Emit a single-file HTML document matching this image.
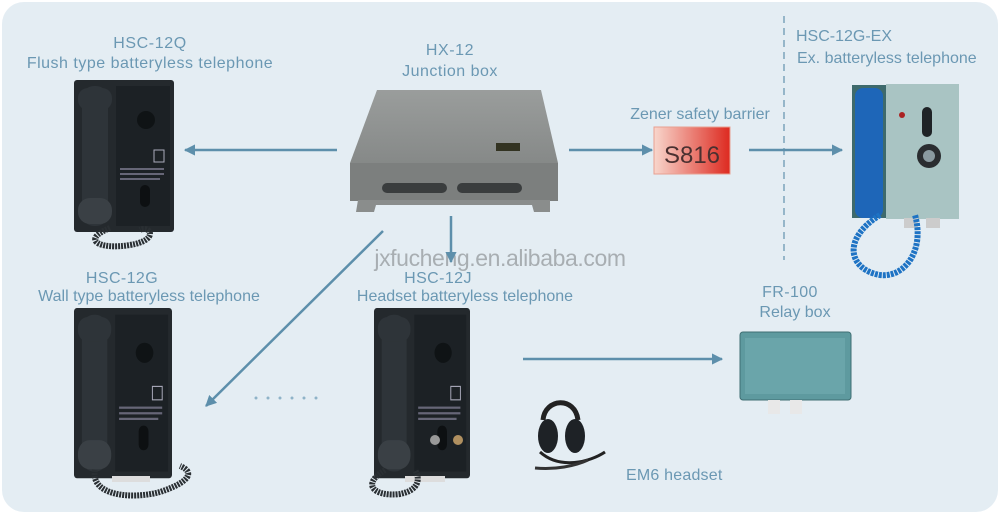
<!DOCTYPE html>
<html><head><meta charset="utf-8"><style>
html,body{margin:0;padding:0;background:#fff}
svg{display:block}
text{font-family:"Liberation Sans",sans-serif;fill:#6b98b3}
</style></head><body>
<svg width="1000" height="515" viewBox="0 0 1000 515" xmlns="http://www.w3.org/2000/svg">
<defs>
<linearGradient id="red" x1="0" x2="1" y1="0" y2="0"><stop offset="0" stop-color="#f8d6cc"/><stop offset="1" stop-color="#dd2a20"/></linearGradient>
<linearGradient id="box" x1="0" x2="0" y1="0" y2="1"><stop offset="0" stop-color="#9a9d9c"/><stop offset="1" stop-color="#868988"/></linearGradient>
<marker id="ah" viewBox="0 0 10 10" refX="9" refY="5" markerWidth="4.5" markerHeight="4.5" orient="auto"><path d="M0,0L10,5L0,10z" fill="#5d8fab"/></marker>
<g id="phone">
  <rect x="0" y="0" width="100" height="152" rx="3" fill="#24292d"/>
  <rect x="42" y="6" width="54" height="140" fill="#1c2125"/>
  <rect x="8" y="6" width="26" height="140" rx="12" fill="#2e3439"/>
  <rect x="4" y="8" width="34" height="22" rx="10" fill="#2e3439"/>
  <rect x="4" y="118" width="34" height="26" rx="12" fill="#3a4045"/>
  <circle cx="72" cy="40" r="9" fill="#0f1315"/>
  <rect x="80" y="70" width="10" height="12" fill="none" stroke="#aab" stroke-width="1"/>
  <rect x="46" y="88" width="44" height="2" fill="#667"/>
  <rect x="46" y="93" width="44" height="2" fill="#667"/>
  <rect x="46" y="98" width="40" height="2" fill="#667"/>
  <rect x="66" y="105" width="10" height="22" rx="5" fill="#0d1012"/>
</g>
</defs>
<rect x="0" y="0" width="1000" height="515" fill="#fff"/>
<rect x="2" y="2" width="996" height="510" rx="22" fill="#e4edf3"/>

<text x="150" y="48" font-size="16" text-anchor="middle" letter-spacing="0.6">HSC-12Q</text>
<text x="150" y="68" font-size="16" text-anchor="middle" letter-spacing="0.5">Flush type batteryless telephone</text>
<text x="450" y="55" font-size="16" text-anchor="middle" letter-spacing="0.6">HX-12</text>
<text x="450" y="76" font-size="16" text-anchor="middle" letter-spacing="0.5">Junction box</text>
<text x="700" y="119" font-size="16" text-anchor="middle">Zener safety barrier</text>
<text x="796" y="41" font-size="16">HSC-12G-EX</text>
<text x="797" y="63" font-size="16">Ex. batteryless telephone</text>
<text x="122" y="283" font-size="16" text-anchor="middle" letter-spacing="0.4">HSC-12G</text>
<text x="149" y="301" font-size="16" text-anchor="middle">Wall type batteryless telephone</text>
<text x="438" y="283" font-size="16" text-anchor="middle" letter-spacing="0.4">HSC-12J</text>
<text x="465" y="301" font-size="16" text-anchor="middle">Headset batteryless telephone</text>
<text x="790" y="297" font-size="16" text-anchor="middle" letter-spacing="0.4">FR-100</text>
<text x="795" y="317" font-size="16" text-anchor="middle">Relay box</text>
<text x="626" y="480" font-size="16" letter-spacing="0.2">EM6  headset</text>
<text x="500" y="266" font-size="23" text-anchor="middle" style="fill:#a8aeb2" letter-spacing="-0.4">jxfucheng.en.alibaba.com</text>

<line x1="784" y1="16" x2="784" y2="260" stroke="#6b98b3" stroke-width="1.3" stroke-dasharray="7,5"/>

<g stroke="#5d8fab" stroke-width="2.5" fill="none" marker-end="url(#ah)">
<line x1="337" y1="150" x2="185" y2="150"/>
<line x1="569" y1="150" x2="652" y2="150"/>
<line x1="749" y1="150" x2="842" y2="150"/>
<line x1="451" y1="216" x2="451" y2="262"/>
<line x1="383" y1="231" x2="206" y2="406"/>
<line x1="523" y1="359" x2="722" y2="359"/>
</g>
<g fill="#8fb3c8"><circle cx="256" cy="398" r="1.5"/><circle cx="268" cy="398" r="1.5"/><circle cx="280" cy="398" r="1.5"/><circle cx="292" cy="398" r="1.5"/><circle cx="304" cy="398" r="1.5"/><circle cx="316" cy="398" r="1.5"/></g>

<polygon points="377,90 541,90 558,163 350,163" fill="url(#box)"/>
<rect x="350" y="163" width="208" height="38" fill="#7c7f7e"/>
<rect x="382" y="183" width="65" height="10" rx="5" fill="#3a3d3e"/>
<rect x="457" y="183" width="65" height="10" rx="5" fill="#3a3d3e"/>
<polygon points="358,200 550,200 550,212 534,212 532,205 376,205 374,212 356,212" fill="#8a8d8c"/>
<rect x="496" y="143" width="24" height="8" fill="#332"/>

<rect x="654" y="127" width="76" height="47" fill="url(#red)" stroke="#e8a090"/>
<text x="692" y="163" font-size="24" text-anchor="middle" style="fill:#4a3030">S816</text>

<rect x="852" y="85" width="36" height="133" fill="#3e6a6c"/>
<rect x="855" y="88" width="28" height="130" rx="8" fill="#1e66b8"/>
<rect x="886" y="84" width="73" height="135" fill="#a9c4c3"/>
<rect x="922" y="107" width="10" height="30" rx="5" fill="#1f2326"/>
<circle cx="929" cy="156" r="12" fill="#2a2d30"/><circle cx="929" cy="156" r="6" fill="#8a9aa0"/>
<circle cx="902" cy="115" r="3" fill="#a22"/>
<rect x="904" y="218" width="14" height="10" fill="#ccc"/><rect x="926" y="218" width="14" height="10" fill="#ccc"/>
<path d="M880,215 C840,240 850,270 880,275 C905,278 925,250 915,215" stroke="#1e73c4" stroke-width="6" fill="none" stroke-dasharray="3,1"/>

<use href="#phone" x="74" y="80"/>
<path d="M110,228 C80,240 100,250 130,245 C160,240 150,225 140,230" stroke="#2a2f33" stroke-width="6" fill="none" stroke-dasharray="2,1"/>
<g transform="translate(74,308) scale(0.98,1.12)"><use href="#phone"/></g>
<rect x="112" y="476" width="38" height="6" fill="#ddd"/>
<path d="M95,470 C90,495 130,500 160,492 C190,482 195,472 180,466" stroke="#2a2f33" stroke-width="6" fill="none" stroke-dasharray="2,1"/>
<g transform="translate(374,308) scale(0.96,1.12)"><use href="#phone"/></g>
<circle cx="435" cy="440" r="5" fill="#999"/><circle cx="458" cy="440" r="5" fill="#b09060"/>
<rect x="405" y="476" width="40" height="6" fill="#ddd"/>
<path d="M385,470 C360,485 375,497 400,494 C420,490 420,478 415,470" stroke="#2a2f33" stroke-width="6" fill="none" stroke-dasharray="2,1"/>

<rect x="740" y="332" width="111" height="68" rx="3" fill="#5e9a9f" stroke="#3f6f73"/>
<rect x="745" y="338" width="100" height="56" fill="#6aa5aa"/>
<rect x="768" y="400" width="12" height="14" fill="#e8e8e8"/><rect x="790" y="400" width="12" height="14" fill="#e8e8e8"/>

<path d="M543,420 C545,398 575,396 578,420" stroke="#222" stroke-width="5" fill="none"/>
<ellipse cx="548" cy="436" rx="10" ry="17" fill="#1e2226"/>
<ellipse cx="575" cy="436" rx="10" ry="17" fill="#1e2226"/>
<path d="M540,452 C560,470 590,462 605,452" stroke="#222" stroke-width="3" fill="none"/>
<path d="M535,468 C555,470 575,466 588,460" stroke="#333" stroke-width="3" fill="none"/>
</svg>
</body></html>
